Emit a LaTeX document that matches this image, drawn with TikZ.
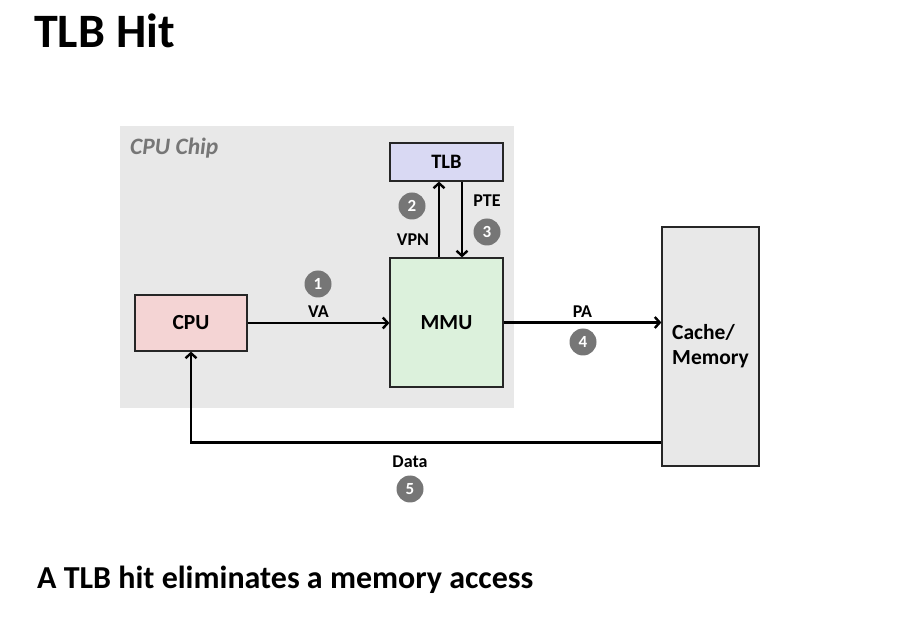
\documentclass[tikz,border=0pt]{standalone}
\usepackage{fontspec}
\setmainfont{Carlito}
\usepackage{xcolor}
\usepackage{tikz}
\usetikzlibrary{arrows.meta,positioning}
\definecolor{chipgray}{RGB}{232,232,232}
\definecolor{tlbblue}{RGB}{217,217,243}
\definecolor{mmugreen}{RGB}{220,241,220}
\definecolor{cpupink}{RGB}{244,212,212}
\definecolor{numgray}{RGB}{118,118,118}
\tikzset{
  hitarrow/.style={-{Straight Barb[length=5pt,width=11pt]}, line width=2.4pt,
    draw=black},
  hitbox/.style={draw=black!85, line width=1.2pt, inner sep=0pt,
    align=center, font=\bfseries\fontsize{21.5}{25}\selectfont},
  hitlabel/.style={font=\bfseries\fontsize{18}{20}\selectfont, inner sep=0pt},
  hitnum/.style={circle, fill=numgray, text=white, minimum size=27pt,
    inner sep=0pt, font=\bfseries\fontsize{17}{19}\selectfont}
}

\begin{document}
\begin{tikzpicture}[x=1pt, y=-1pt]
  \useasboundingbox (0,0) rectangle (922,644);

  \node[anchor=base west, inner sep=0pt,
    font=\bfseries\fontsize{48}{53}\selectfont] (title) at (34,48) {TLB Hit};

  \node[fill=chipgray, minimum width=394pt, minimum height=282pt,
    inner sep=0pt] (chip) at (317,267) {};
  \node[anchor=west, inner sep=0pt, text=numgray,
    font=\bfseries\itshape\fontsize{23.5}{26}\selectfont] (chiplabel)
    at (130,148) {CPU Chip};

  \node[hitbox, fill=cpupink, minimum width=112pt, minimum height=56pt]
    (cpu) at (191,323) {CPU};
  \node[hitbox, fill=tlbblue, minimum width=113pt, minimum height=38pt,
    font=\bfseries\fontsize{20.5}{23}\selectfont] (tlb) at (446.5,162) {TLB};
  \node[hitbox, fill=mmugreen, minimum width=113pt, minimum height=129pt]
    (mmu) at (446.5,322.5) {MMU};
  \node[hitbox, fill=chipgray, minimum width=97pt, minimum height=239pt,
    align=left] (mem) at (710.5,346.5) {Cache/\\Memory};

  \draw[hitarrow] (cpu.east) -- node[hitlabel, above=4pt] (va) {VA}
    (cpu.east -| mmu.west);
  \node[hitnum] (n1) at (318,284) {1};

  \draw[hitarrow] ([xshift=-7.5pt]mmu.north) -- ([xshift=-7.5pt]tlb.south);
  \node[hitlabel] (vpn) at (413,240) {VPN};
  \node[hitnum] (n2) at (412,206) {2};

  \draw[hitarrow] ([xshift=15.5pt]tlb.south) -- ([xshift=15.5pt]mmu.north);
  \node[hitlabel] (pte) at (487,201) {PTE};
  \node[hitnum] (n3) at (487,232) {3};

  \draw[hitarrow] (mmu.east) -- node[hitlabel, above=4pt] (pa) {PA}
    (mmu.east -| mem.west);
  \node[hitnum] (n4) at (583,342) {4};

  \draw[hitarrow] ([yshift=24pt]mem.south west) -| (cpu.south);
  \node[hitlabel] (data) at (410,462) {Data};
  \node[hitnum] (n5) at (410,489) {5};

  \node[anchor=base west, inner sep=0pt,
    font=\bfseries\fontsize{32}{36}\selectfont] (caption) at (37,588)
    {A TLB hit eliminates a memory access};
\end{tikzpicture}
\end{document}
